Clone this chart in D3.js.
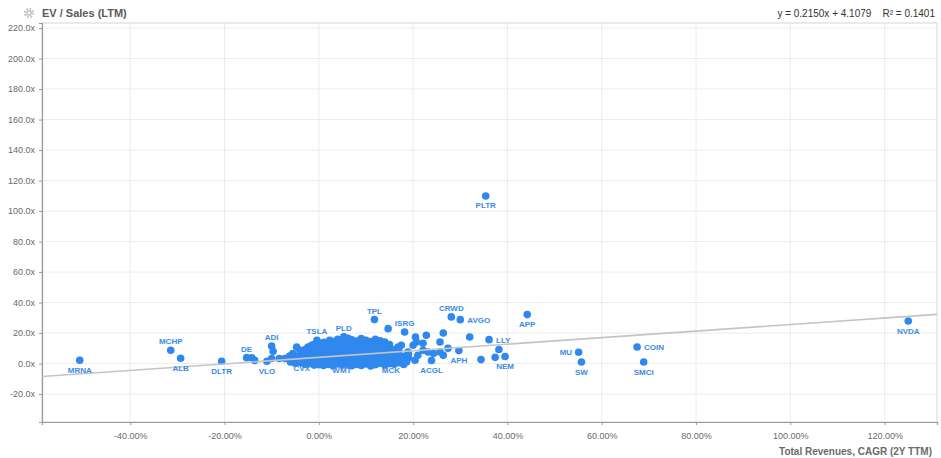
<!DOCTYPE html>
<html><head><meta charset="utf-8">
<script src="https://cdn.jsdelivr.net/npm/d3@7"></script>
<style>
html,body{margin:0;padding:0;background:#fff;}
svg{display:block;font-family:"Helvetica Neue",Helvetica,Arial,"Liberation Sans",sans-serif;}
</style></head><body>
<svg id="chart" width="941" height="458"></svg>
<script>
// ---- Data ----
const title = "EV / Sales (LTM)";
const xTitle = "Total Revenues, CAGR (2Y TTM)";
const slope = 0.2150, intercept = 4.1079, r2 = 0.1401;
const yTicks = [-20, 0, 20, 40, 60, 80, 100, 120, 140, 160, 180, 200, 220];
const xTicks = [-40, -20, 0, 20, 40, 60, 80, 100, 120];

const labelNames = ["MRNA","MCHP","ALB","DLTR","DE","ADI","VLO","TSLA","PLD","CVX","WMT","MCK","TPL","ISRG","CRWD","AVGO","APP","LLY","APH","ACGL","NEM","MU","SW","COIN","SMCI","NVDA","PLTR"];
const labelCagr  = [-50.7,-31.4,-29.3,-20.6,-15.3,-10.0,-11.0,-0.4,5.3,-3.6,4.9,15.3,11.8,18.2,28.1,30.0,44.2,36.1,29.7,23.9,39.5,55.1,55.7,67.5,68.9,125.0,35.4];
const labelEv    = [2.2,8.7,3.5,1.5,3.9,11.5,1.5,15.2,17.5,3.5,2.0,2.0,28.9,20.7,30.6,28.8,32.1,15.7,8.5,2.0,4.6,7.4,1.0,10.9,1.0,27.9,109.9];
const labelSide  = ["below","above","below","below","above","above","below","above","above","below","below","below","above","above","above","right","below","right","below","below","below","left","below","right","below","below","below"];

const otherPoints = [
 [-14.2,3.8],[-13.6,2.1],[-9.7,8.1],[-10.0,3.3],[-8.4,3.3],[-7.2,3.3],[-6.2,5.0],[-5.5,6.6],[-5.1,2.2],[-4.0,8.7],[-2.3,10.9],[-4.7,10.9],
 [-6,1.0],[-6,3.5],[-5,0.2],[-5,2.4],[-5,4.8],[-4,0.8],[-4,3.0],[-4,5.5],[-4,1.8],
 [-3,-0.5],[-3,1.5],[-3,3.8],[-3,6.2],[-3,9.0],[-2,0.0],[-2,2.0],[-2,4.2],[-2,6.8],[-2,10.5],[-1.5,12.0],
 [-1,-1.0],[-1,1.2],[-1,3.2],[-1,5.4],[-1,7.5],[-1,9.8],[-1,12.5],
 [0,-0.8],[0,0.8],[0,2.5],[0,4.0],[0,6.0],[0,8.2],[0,11.0],[0.4,13.5],
 [1,-1.2],[1,0.5],[1,2.2],[1,3.6],[1,5.0],[1,7.0],[1,9.0],[1,11.5],[1.2,14.0],
 [2,-0.5],[2,1.0],[2,2.8],[2,4.4],[2,6.2],[2,8.0],[2,10.0],[2,12.8],[2.3,15.2],
 [3,-1.5],[3,0.2],[3,1.8],[3,3.4],[3,5.2],[3,7.4],[3,9.5],[3,12.0],[3,14.5],
 [4,-0.2],[4,1.4],[4,3.0],[4,4.8],[4,6.6],[4,8.8],[4,11.2],[4,13.6],[4,16.0],
 [5,-1.0],[5,0.6],[5,2.4],[5,4.2],[5,6.0],[5,8.0],[5,10.4],[5,12.6],[5,15.0],
 [6,-0.4],[6,1.2],[6,3.2],[6,5.4],[6,7.6],[6,9.6],[6,11.8],[6,14.4],[6.2,16.5],
 [7,-1.4],[7,0.4],[7,2.0],[7,3.8],[7,6.4],[7,8.4],[7,10.8],[7,13.2],[7,15.6],
 [8,-0.6],[8,1.6],[8,3.4],[8,5.0],[8,7.0],[8,9.2],[8,12.2],[8,14.8],
 [9,-1.2],[9,0.8],[9,2.6],[9,4.6],[9,6.8],[9,8.6],[9,11.0],[9,13.8],[9,16.4],
 [10,-0.2],[10,1.8],[10,4.0],[10,6.0],[10,8.2],[10,10.2],[10,12.6],[10,15.2],
 [11,-1.6],[11,0.4],[11,2.2],[11,5.2],[11,7.4],[11,9.8],[11,12.0],[11,14.4],
 [12,-0.8],[12,1.4],[12,3.6],[12,6.2],[12,8.6],[12,11.4],[12,13.8],[12,16.0],
 [13,0.2],[13,2.4],[13,4.8],[13,7.2],[13,10.0],[13,12.6],[13,15.0],
 [14,-1.0],[14,1.0],[14,3.2],[14,5.8],[14,8.4],[14,11.0],[14,14.2],
 [15,0.0],[15,2.0],[15,4.4],[15,7.0],[15,9.4],[15,12.4],
 [16,-0.4],[16,1.6],[16,3.8],[16,6.4],[16,9.0],[16.8,10.9],
 [17,0.6],[17,3.0],[17,5.6],[17,8.2],[17.5,12.0],
 [18,-0.6],[18,2.2],[18,4.6],[18.9,7.6],[18.6,1.0],
 [19,3.6],[19,6.0],[20,12.0],[20.4,2.2],[21.0,5.4],
 [14.7,22.9],[20.5,17.4],[22.8,18.6],[26.4,20.1],[32.0,17.4],[25.7,14.2],[22.1,13.3],[20.7,14.2],
 [27.4,10.0],[25.7,7.6],[24.3,6.6],[23.2,7.6],[22.1,8.7],[26.4,5.4],[34.4,2.6],[37.4,4.1],[38.2,9.2]
];

// ---- Layout ----
const svg = d3.select("#chart");
const L = 42, R = 937, T = 23, B = 422;
const x = d3.scaleLinear().domain([-58.7, 131.1]).range([L, R]);
const y = d3.scaleLinear().domain([-38.3, 223.3]).range([B, T]);
const blue = "#2f88ee";

// grid
svg.append("g").selectAll("line").data(xTicks).join("line")
  .attr("x1", d => x(d)).attr("x2", d => x(d)).attr("y1", T).attr("y2", B)
  .attr("stroke", "#ececec").attr("stroke-width", 1);
svg.append("g").selectAll("line").data(yTicks).join("line")
  .attr("x1", L).attr("x2", R).attr("y1", d => y(d)).attr("y2", d => y(d))
  .attr("stroke", "#ececec").attr("stroke-width", 1);

// frame
svg.append("rect").attr("x", L).attr("y", T).attr("width", R - L).attr("height", B - T)
  .attr("fill", "none").attr("stroke", "#d6d6d6");

// axes
const yAxis = d3.axisLeft(y).tickValues(yTicks).tickFormat(d => d.toFixed(1) + "x").tickSize(3).tickPadding(4);
const gy = svg.append("g").attr("transform", `translate(${L},0)`).call(yAxis);
const xAxis = d3.axisBottom(x).tickValues(xTicks).tickFormat(d => d.toFixed(2) + "%").tickSize(3).tickPadding(8);
const gx = svg.append("g").attr("transform", `translate(0,${B})`).call(xAxis);
[gy, gx].forEach(g => {
  g.select(".domain").attr("stroke", "#9a9a9a").attr("stroke-width", 1.2);
  g.selectAll(".tick line").attr("stroke", "#9a9a9a");
  g.selectAll(".tick text").attr("fill", "#6a6a6a").attr("font-size", 9)
   .attr("font-family", "\"Helvetica Neue\",Helvetica,Arial,\"Liberation Sans\",sans-serif");
});

// points
const plot = svg.append("g");
plot.selectAll("circle.o").data(otherPoints).join("circle").attr("class", "o")
  .attr("cx", d => x(d[0])).attr("cy", d => y(d[1])).attr("r", 3.8).attr("fill", blue);
const labeled = labelNames.map((n, i) => ({n, cx: labelCagr[i], ev: labelEv[i], side: labelSide[i]}));
plot.selectAll("circle.l").data(labeled).join("circle").attr("class", "l")
  .attr("cx", d => x(d.cx)).attr("cy", d => y(d.ev)).attr("r", 3.8).attr("fill", blue);

// regression line
const xd = x.domain();
svg.append("line")
  .attr("x1", x(xd[0])).attr("y1", y(slope * xd[0] + intercept))
  .attr("x2", x(xd[1])).attr("y2", y(slope * xd[1] + intercept))
  .attr("stroke", "#c4c4c4").attr("stroke-width", 1.6);

// labels
svg.append("g").selectAll("text").data(labeled).join("text")
  .attr("x", d => x(d.cx) + (d.side === "right" ? 7 : d.side === "left" ? -6.5 : 0))
  .attr("y", d => y(d.ev) + (d.side === "below" ? 12.5 : d.side === "above" ? -6 : 3))
  .attr("text-anchor", d => d.side === "right" ? "start" : d.side === "left" ? "end" : "middle")
  .attr("font-size", 8).attr("font-weight", 600).attr("fill", "#3a8be6")
  .text(d => d.n);

// title + gear
const gear = svg.append("g").attr("transform", "translate(29,13)");
gear.append("circle").attr("r", 4).attr("fill", "none").attr("stroke", "#c2c2c2")
  .attr("stroke-width", 2.4).attr("stroke-dasharray", "1.6,1.54");
gear.append("circle").attr("r", 3).attr("fill", "#c8c8c8");
gear.append("circle").attr("r", 1.3).attr("fill", "#fff");
svg.append("text").attr("x", 42).attr("y", 17).attr("font-size", 11).attr("font-weight", 700)
  .attr("fill", "#5a5a5a").text(title);

// equation
svg.append("text").attr("x", 935).attr("y", 17).attr("text-anchor", "end")
  .attr("font-size", 10).attr("fill", "#333")
  .text(`y = ${slope.toFixed(4)}x + ${intercept.toFixed(4)}\u00a0\u00a0\u00a0\u00a0R\u00b2 = ${r2.toFixed(4)}`);

// x title
svg.append("text").attr("x", 932).attr("y", 455).attr("text-anchor", "end")
  .attr("font-size", 10).attr("font-weight", 700).attr("fill", "#6a6a6a").text(xTitle);
</script>
</body></html>
